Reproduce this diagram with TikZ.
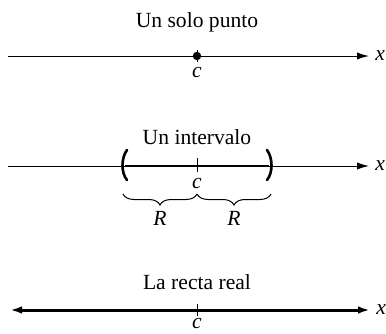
\documentclass[tikz,border=0pt]{standalone}
\usepackage{fontspec}
\setmainfont{Liberation Serif}
\usetikzlibrary{arrows.meta,decorations.pathreplacing}
\begin{document}
\begin{tikzpicture}[x=0.5pt,y=-0.5pt,
  title/.style={font=\fontsize{10.8}{13}\selectfont, inner sep=0},
  lbl/.style={font=\fontsize{10.8}{13}\selectfont\itshape, inner sep=0},
  axisthin/.style={line width=0.5pt,-{Latex[length=6pt,width=3.6pt]}},
  axisthick/.style={line width=1.5pt,{Latex[length=6pt,width=3.8pt]}-{Latex[length=6pt,width=3.8pt]}},
  segthick/.style={line width=1.1pt},
  tickmark/.style={line width=0.5pt},
  paren/.style={line width=1.3pt, line cap=round},
  bracedeco/.style={line width=0.5pt, decorate, decoration={brace, mirror, amplitude=5.5pt}}]
\useasboundingbox (0,0) rectangle (386,333);

% --- Un solo punto
\node[title] (t1) at (197,22) {Un solo punto};
\coordinate (a1) at (8,56);
\coordinate (b1) at (369,56);
\coordinate (c1) at (197,56);
\draw[axisthin] (a1) -- (b1);
\node[lbl, anchor=west] (x1) at (375,56) {x};
\draw[tickmark] (197,50) -- (197,62);
\fill (c1) circle (2.1pt);
\node[lbl] (lc1) at (197,73) {c};

% --- Un intervalo
\node[title] (t2) at (197,137) {Un intervalo};
\coordinate (a2) at (8,166);
\coordinate (b2) at (369,166);
\coordinate (c2) at (197,166);
\coordinate (l2) at (125,166);
\coordinate (r2) at (269,166);
\draw[axisthin] (a2) -- (b2);
\draw[segthick] (l2) -- (r2);
\draw[tickmark] (197,158) -- (197,172);
\draw[paren] (127,150) .. controls (121,158) and (121,173) .. (127,180);
\draw[paren] (267,150) .. controls (273,158) and (273,173) .. (267,180);
\node[lbl] (lc2) at (197,184) {c};
\coordinate (bl) at (123,194);
\coordinate (bm) at (197,194);
\coordinate (br) at (271,194);
\draw[bracedeco] (bl) -- (bm);
\draw[bracedeco] (bm) -- (br);
\node[lbl] (R1) at (160,218) {R};
\node[lbl] (R2) at (234,218) {R};
\node[lbl, anchor=west] (x2) at (375,166) {x};

% --- La recta real
\node[title] (t3) at (197,282) {La recta real};
\coordinate (a3) at (10,310);
\coordinate (b3) at (370,310);
\draw[axisthick] (a3) -- (b3);
\draw[tickmark] (197,304) -- (197,316);
\node[lbl] (lc3) at (197,324) {c};
\node[lbl, anchor=west] (x3) at (376,310) {x};
\end{tikzpicture}
\end{document}
